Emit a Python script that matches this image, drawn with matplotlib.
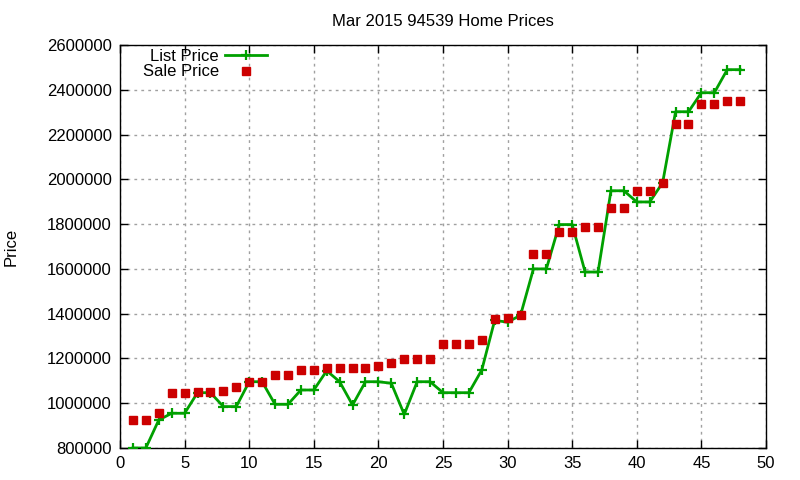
import matplotlib
matplotlib.use("Agg")
import matplotlib.pyplot as plt

x = list(range(1, 49))
list_price = [800000, 800000, 925000, 955000, 955000, 1047000, 1047000, 985000, 985000, 1096000,
              1096000, 995000, 995000, 1059000, 1059000, 1145000, 1096000, 992000, 1096000, 1096000,
              1089000, 950000, 1096000, 1096000, 1047000, 1047000, 1047000, 1148000, 1370000, 1362000,
              1393000, 1600000, 1600000, 1798000, 1798000, 1586000, 1586000, 1949000, 1949000, 1899000,
              1899000, 1985000, 2302000, 2302000, 2387000, 2387000, 2490000, 2490000]
sale_price = [927000, 927000, 958000, 1047000, 1047000, 1052000, 1052000, 1056000, 1074000, 1096000,
              1096000, 1127000, 1127000, 1150000, 1150000, 1157000, 1157000, 1157000, 1157000, 1167000,
              1181000, 1198000, 1198000, 1198000, 1266000, 1266000, 1266000, 1282000, 1377000, 1382000,
              1395000, 1667000, 1667000, 1766000, 1766000, 1788000, 1788000, 1873000, 1873000, 1949000,
              1949000, 1982000, 2249000, 2249000, 2338000, 2338000, 2351000, 2351000]
xticks = list(range(0, 51, 5))
yticks = list(range(800000, 2600001, 200000))

plt.rcParams['font.family'] = ['Liberation Sans', 'DejaVu Sans']
fig = plt.figure(figsize=(8, 4.8), dpi=100)
ax = fig.add_axes([0.15, 0.0667, 0.8075, 0.8395])

ax.plot(x, list_price, color='#00a000', lw=2, marker='+', ms=7, mew=1.6, label='List Price', zorder=3)
ax.plot(x, sale_price, ls='none', color='#cc0000', marker='s', ms=6.2, label='Sale Price', zorder=4)

ax.set_xlim(0, 50)
ax.set_ylim(800000, 2600000)
ax.set_xticks(xticks)
ax.set_yticks(yticks)
ax.set_yticklabels([str(v) for v in yticks])
ax.tick_params(direction='in', top=True, right=True, labelsize=12, length=6, width=1, pad=6)
ax.grid(True, color='#a0a0a0', ls=(0, (2, 3)), lw=1)
for s in ax.spines.values():
    s.set_linewidth(1)

ax.set_title('Mar 2015 94539 Home Prices', fontsize=12, pad=14)
ax.set_ylabel('Price', fontsize=12, labelpad=20)

leg = ax.legend(loc='upper left', markerfirst=False, frameon=False, fontsize=12,
                handlelength=2.5, handletextpad=0.4, borderaxespad=0.1, labelspacing=0.05,
                bbox_to_anchor=(0.022, 1.012))
for t in leg.get_texts():
    t.set_ha('right')

fig.savefig('out.png', dpi=100)
